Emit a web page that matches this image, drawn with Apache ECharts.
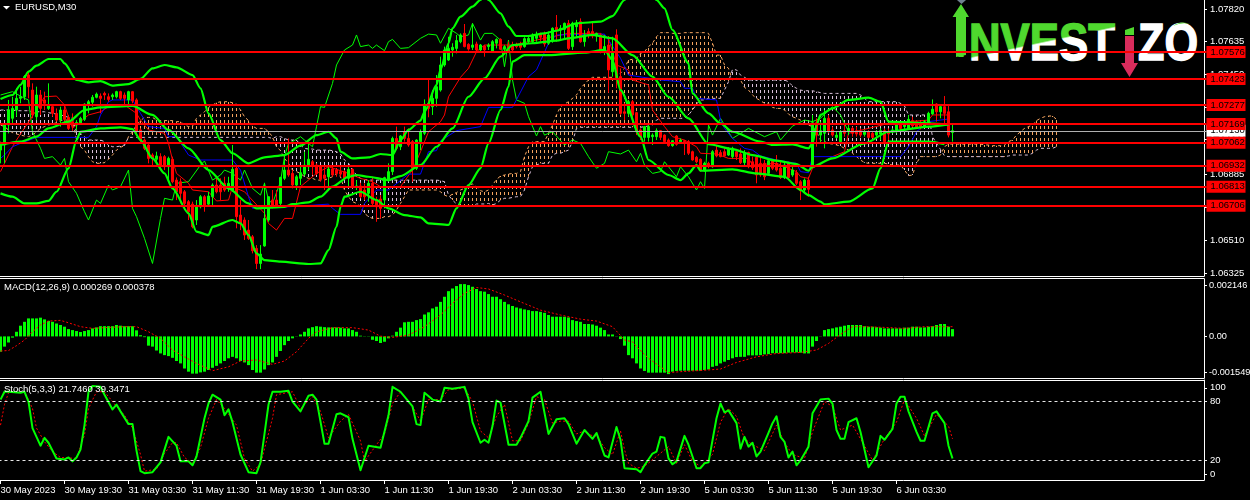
<!DOCTYPE html>
<html><head><meta charset="utf-8">
<style>
html,body{margin:0;padding:0;background:#000;width:1250px;height:500px;overflow:hidden}
#logo{position:absolute;left:0;top:0;z-index:0}
#chart{position:absolute;left:0;top:0;width:1250px;height:500px;z-index:1}
</style>
<script src="https://cdn.jsdelivr.net/npm/echarts@6/dist/echarts.min.js"></script>
</head><body>
<svg id="logo" width="1250" height="500" xmlns="http://www.w3.org/2000/svg">
<defs><linearGradient id="lg" gradientUnits="userSpaceOnUse" x1="970" y1="57" x2="970.34" y2="58.6">
<stop offset="0" stop-color="#4fd82e"/><stop offset="1" stop-color="#ffffff"/></linearGradient></defs>
<text x="956" y="57" font-family="Liberation Sans" font-weight="700" font-size="52" fill="#4fd82e" textLength="10" lengthAdjust="spacingAndGlyphs">I</text>
<text x="969" y="60" font-family="Liberation Sans" font-weight="700" font-size="52" fill="url(#lg)" stroke="url(#lg)" stroke-width="1.4" textLength="146" lengthAdjust="spacingAndGlyphs">NVEST</text>
<text x="1125" y="63" font-family="Liberation Sans" font-weight="700" font-size="36" fill="#d92c5c" textLength="9" lengthAdjust="spacingAndGlyphs">I</text>
<text x="1138" y="60" font-family="Liberation Sans" font-weight="700" font-size="52" fill="#fff" stroke="#fff" stroke-width="1.4" textLength="60" lengthAdjust="spacingAndGlyphs">ZO</text>
<polygon points="957,0 966,0 961.5,4" fill="#708090"/>
<polygon points="961,4 969,17 966,17 966,55 956,57 956,17 952.5,17" fill="#4fd82e"/>
<polygon points="1125,30 1134,27 1134,35 1125,35" fill="#4fd82e"/>
<polygon points="1125,36 1134,36 1134,63 1138,63 1129.5,77 1121,63 1125,63" fill="#d92c5c"/>
<path d="M1173,26 Q1181,20 1190,24 Q1181,22 1173,26Z" fill="#4fd82e"/>
</svg>
<div id="chart"></div>
<script>
// Prices are in points: 7420 means 1.07420. Each candle is [open, close, low, high], one per 30-minute bar.
const candles = [
[7021,7059,6946,7069],[7050,7163,6946,7172],[7163,7248,7116,7305],[7201,7257,7163,7323],[7248,7314,7210,7371],[7314,7323,7286,7380],[7323,7437,7305,7446],[7446,7380,7314,7465],
[7361,7220,7201,7399],[7210,7333,7191,7380],[7333,7257,7220,7361],[7305,7286,7248,7352],[7257,7276,7248,7399],[7267,7229,7210,7276],[7229,7191,7182,7257],[7191,7248,7154,7267],
[7248,7195,7172,7271],[7205,7144,7135,7220],[7182,7168,7130,7229],[7163,7177,7135,7191],[7172,7201,7163,7210],[7195,7281,7186,7286],[7276,7295,7229,7305],[7292,7320,7267,7333],
[7320,7338,7314,7347],[7327,7314,7229,7342],[7342,7333,7305,7352],[7323,7308,7295,7342],[7323,7333,7305,7342],[7323,7352,7314,7357],[7352,7314,7305,7357],[7333,7314,7271,7347],
[7305,7352,7267,7357],[7352,7299,7286,7356],[7305,7125,7106,7314],[7135,7078,7059,7144],[7078,7031,7021,7087],[7050,6974,6946,7059],[6993,6974,6936,7003],[6969,6988,6946,7012],
[6984,6936,6918,7003],[6984,6927,6908,6993],[6927,6974,6851,6984],[6969,6842,6833,6984],[6851,6785,6738,6866],[6842,6776,6719,6861],[6785,6719,6682,6795],[6729,6672,6625,6738],
[6715,6587,6578,6729],[6625,6700,6597,6738],[6700,6757,6691,6766],[6757,6705,6672,6766],[6715,6761,6710,6785],[6757,6823,6700,6833],[6823,6785,6776,6870],[6823,6785,6738,6861],
[6833,6795,6785,6870],[6814,6833,6785,6870],[6795,6912,6785,7050],[6918,6644,6578,6927],[6653,6606,6568,6738],[6625,6540,6512,6640],[6568,6521,6512,6625],[6530,6451,6436,6540],
[6464,6379,6347,6483],[6379,6432,6347,6483],[6478,6634,6474,6836],[6625,6757,6615,6757],[6738,6700,6691,6795],[6738,6710,6700,6795],[6719,6866,6710,6870],[6861,6908,6851,6984],
[6908,6880,6870,7087],[6889,6823,6804,6908],[6823,6870,6795,6880],[6861,6893,6823,6927],[6885,6936,6875,7012],[6927,6969,6908,7059],[6955,6936,6880,6965],[6936,6889,6880,6946],
[6927,6855,6842,6936],[6880,6861,6795,6927],[6870,6914,6795,6931],[6914,6880,6870,6927],[6908,6889,6870,6918],[6899,6885,6870,6931],[6899,6861,6851,6908],[6861,6912,6814,6927],
[6912,6814,6804,6918],[6810,6818,6795,6851],[6818,6757,6748,6836],[6795,6757,6738,6833],[6776,6833,6729,6851],[6833,6719,6710,6870],[6738,6700,6615,6757],[6744,6691,6634,6766],
[6738,6865,6691,6870],[6855,6899,6842,6946],[6899,7087,6880,7097],[7087,7031,7021,7154],[7040,7101,7021,7106],[7125,7087,7069,7154],[7087,7050,7040,7144],[7069,6918,6842,7078],
[6918,7078,6908,7082],[7069,7125,7021,7138],[7116,7281,7106,7308],[7286,7257,7207,7422],[7267,7314,7220,7361],[7314,7380,7267,7446],[7361,7503,7352,7550],[7503,7588,7493,7607],
[7531,7597,7526,7663],[7588,7603,7550,7626],[7597,7641,7569,7673],[7635,7673,7626,7682],[7682,7607,7603,7735],[7620,7593,7584,7626],[7603,7616,7588,7739],[7622,7588,7578,7635],
[7588,7616,7578,7622],[7610,7588,7550,7616],[7607,7616,7588,7626],[7582,7635,7573,7644],[7626,7648,7597,7654],[7648,7592,7588,7654],[7592,7607,7578,7616],[7607,7588,7578,7635],
[7616,7588,7578,7635],[7616,7607,7597,7629],[7616,7603,7588,7635],[7607,7652,7601,7660],[7635,7654,7626,7673],[7635,7673,7629,7682],[7654,7673,7635,7692],[7682,7660,7635,7686],
[7678,7622,7607,7692],[7626,7673,7616,7692],[7641,7711,7629,7716],[7716,7701,7635,7786],[7701,7711,7648,7729],[7705,7739,7654,7743],[7739,7597,7588,7758],[7607,7739,7588,7748],
[7720,7739,7663,7758],[7748,7635,7629,7767],[7635,7673,7607,7701],[7692,7673,7654,7711],[7692,7667,7654,7748],[7667,7682,7635,7686],[7673,7588,7569,7682],[7578,7607,7559,7673],
[7616,7475,7346,7667],[7465,7578,7437,7663],[7673,7427,7371,7705],[7437,7229,7220,7484],[7238,7229,7191,7286],[7229,7295,7210,7305],[7295,7220,7169,7305],[7233,7125,7106,7238],
[7135,7097,7078,7144],[7093,7154,7069,7158],[7093,7154,7069,7163],[7097,7106,7050,7116],[7097,7131,7078,7144],[7131,7093,7078,7135],[7106,7069,7059,7110],[7078,7046,7040,7087],
[7046,7074,7040,7078],[7101,7054,7046,7106],[7069,7078,7059,7087],[7074,7069,6993,7078],[7069,7003,6993,7078],[7012,6965,6961,7018],[6980,6955,6946,6988],[6969,6904,6899,6974],
[6904,6946,6899,6955],[6946,6931,6918,6955],[6927,7012,6921,7021],[7021,6988,6980,7046],[7007,6984,6980,7021],[7012,6988,6984,7031],[6993,7025,6988,7037],[6984,7031,6974,7040],
[7012,6984,6965,7021],[6999,6950,6942,7031],[6950,7003,6936,7021],[7007,6927,6918,7012],[6955,6921,6908,6984],[6980,6880,6833,6988],[6946,6880,6870,6984],[6946,6870,6851,6965],
[6889,6961,6880,6974],[6961,6918,6908,6969],[6946,6908,6899,6993],[6918,6865,6857,6965],[6865,6936,6857,6959],[6946,6865,6857,6955],[6880,6908,6870,6936],[6893,6833,6823,6908],
[6842,6791,6738,6851],[6795,6851,6776,6861],[6851,6799,6757,6870],[6927,7176,6918,7220],[7176,7106,7040,7201],[7106,7131,7059,7182],[7116,7201,7031,7248],[7201,7125,7116,7220],
[7135,7106,7097,7154],[7093,7106,7087,7125],[7069,7125,7065,7135],[7131,7116,7097,7163],[7125,7144,7106,7163],[7144,7116,7097,7154],[7131,7112,7097,7154],[7125,7106,7093,7144],
[7110,7125,7097,7135],[7125,7093,7087,7135],[7116,7093,7087,7125],[7106,7125,7097,7135],[7112,7131,7078,7144],[7131,7069,7059,7144],[7125,7112,7078,7144],[7125,7135,7116,7144],
[7131,7163,7116,7172],[7163,7144,7125,7176],[7154,7163,7135,7176],[7144,7195,7135,7220],[7188,7158,7150,7210],[7182,7150,7144,7191],[7176,7150,7138,7188],[7154,7182,7150,7191],
[7176,7229,7172,7238],[7226,7252,7220,7308],[7282,7238,7182,7286],[7238,7267,7201,7282],[7267,7229,7163,7327],[7238,7106,7093,7276],[7121,7131,7069,7163]
];
// Bollinger bands as [bar, points]; the upper band leaves the top of the window twice.
const bbUpper = [[0,7310],[3,7333],[5,7390],[7,7465],[9,7499],[12,7537],[15,7537],[16,7512],[19,7418],[22,7405],[25,7412],[28,7386],[32,7395],[35,7424],[38,7484],[41,7503],[44,7490],[48,7446],[50,7371],[52,7229],[55,7078],[58,7003],[62,6946],[66,6980],[71,6993],[75,7046],[79,7106],[82,7125],[84,7087],[85,7012],[88,6974],[92,6980],[95,6999],[98,6993],[100,7078],[102,7135],[105,7188],[106,7238],[109,7390],[110,7475],[112,7626],[113,7711],[115,7777],[118,7833],[120,7871],[121,7899],[122,7871],[125,7795],[127,7720],[129,7667],[132,7667],[136,7682],[139,7697],[144,7739],[150,7748],[153,7780],[156,7871],[158,7947],[162,7928],[164,7871],[166,7824],[168,7701],[172,7512],[173,7342],[177,7229],[180,7172],[183,7125],[190,7069],[193,7050],[198,7053],[202,7031],[203,7059],[204,7163],[205,7220],[208,7257],[212,7305],[217,7318],[220,7295],[222,7182],[229,7176],[237,7167]];
const bbMiddle = [[0,7050],[5,7069],[9,7097],[12,7144],[17,7182],[21,7248],[25,7263],[33,7271],[38,7220],[42,7135],[47,7031],[52,6908],[57,6804],[62,6719],[64,6691],[71,6700],[73,6715],[77,6725],[80,6757],[83,6814],[87,6870],[89,6880],[92,6870],[97,6851],[100,6874],[105,6936],[109,7040],[113,7144],[117,7323],[121,7427],[125,7550],[128,7616],[133,7626],[139,7641],[142,7654],[148,7673],[153,7654],[158,7559],[163,7437],[167,7323],[172,7201],[177,7055],[183,7027],[188,6993],[194,6961],[199,6942],[202,6904],[203,6927],[208,6974],[216,7059],[222,7125],[232,7154],[237,7167]];
const bbLower = [[0,6776],[3,6757],[6,6719],[9,6719],[12,6734],[14,6785],[17,6918],[19,7078],[20,7125],[25,7144],[30,7150],[33,7140],[35,7078],[38,6974],[41,6889],[43,6804],[47,6663],[49,6559],[52,6540],[53,6587],[58,6625],[60,6606],[62,6540],[64,6436],[66,6398],[70,6389],[77,6376],[80,6379],[82,6455],[84,6587],[85,6700],[86,6757],[90,6785],[94,6738],[97,6691],[101,6653],[105,6640],[107,6606],[112,6597],[114,6691],[117,6823],[120,6918],[122,7059],[125,7248],[127,7380],[128,7522],[131,7559],[137,7559],[146,7573],[151,7588],[153,7531],[155,7361],[160,7097],[162,6965],[167,6880],[170,6851],[172,6889],[174,6936],[175,6904],[183,6912],[189,6889],[196,6870],[200,6795],[202,6766],[205,6729],[206,6714],[212,6729],[218,6804],[220,6918],[222,7069],[232,7069],[236,7055]];
// Ichimoku lines as [bar, points]
const tenkan = [[0,6899],[1,6946],[3,7040],[4,7078],[9,7248],[11,7323],[14,7327],[16,7276],[17,7210],[18,7144],[20,7182],[22,7220],[25,7238],[27,7267],[31,7276],[34,7229],[35,7191],[37,7135],[41,7116],[42,7059],[43,6965],[44,6889],[47,6833],[48,6795],[52,6785],[54,6733],[57,6738],[58,6814],[61,6785],[66,6663],[67,6606],[69,6568],[71,6634],[73,6634],[75,6814],[79,6889],[82,6927],[87,6889],[90,6861],[93,6842],[95,6814],[100,6814],[103,6908],[105,7012],[107,7125],[110,7182],[111,7220],[112,7323],[115,7433],[117,7484],[119,7578],[121,7616],[128,7616],[142,7682],[150,7682],[152,7654],[154,7503],[157,7475],[158,7418],[162,7390],[163,7248],[166,7154],[168,7097],[171,7078],[174,7040],[175,7003],[179,6999],[182,6974],[187,6974],[188,6936],[194,6946],[199,6899],[200,6870],[202,6861],[203,6918],[208,6984],[211,7012],[212,7116],[222,7172],[232,7191],[233,7220],[237,7220]];
const kijun = [[0,6974],[1,6993],[3,7040],[5,7059],[9,7093],[22,7093],[24,7154],[25,7220],[27,7295],[28,7305],[33,7305],[35,7229],[37,7154],[41,7144],[42,7097],[44,7097],[47,6993],[50,6965],[58,6965],[60,6908],[62,6757],[63,6691],[72,6700],[82,6715],[83,6691],[85,6657],[90,6657],[91,6719],[94,6795],[97,6795],[102,6885],[105,6885],[107,7012],[109,7018],[110,7074],[114,7131],[120,7154],[122,7263],[128,7263],[132,7437],[134,7475],[137,7626],[139,7673],[151,7678],[152,7644],[155,7541],[157,7446],[165,7418],[170,7408],[171,7371],[173,7371],[174,7314],[179,7305],[180,7191],[181,7144],[183,7087],[186,7031],[188,7021],[190,6988],[194,6965],[199,6946],[200,6899],[202,6893],[203,6984],[225,6984],[227,7040],[229,7125],[232,7182],[237,7197]];
const chikou = [[0,7333],[3,7352],[6,7314],[7,7305],[8,7125],[9,7078],[10,7031],[11,6974],[13,6984],[15,6936],[16,6974],[17,6842],[19,6776],[21,6672],[22,6625],[24,6738],[25,6719],[27,6823],[28,6795],[30,6814],[32,6908],[33,6691],[34,6644],[36,6521],[38,6379],[40,6634],[41,6748],[43,6738],[44,6833],[47,6842],[50,6936],[51,6959],[53,6851],[55,6880],[56,6908],[58,6889],[60,6851],[61,6908],[63,6804],[65,6766],[66,6833],[67,6738],[68,6719],[70,6842],[71,6984],[72,7059],[73,7069],[75,7097],[76,7078],[78,7040],[79,7154],[80,7267],[81,7263],[83,7399],[84,7503],[86,7588],[88,7616],[89,7673],[90,7607],[92,7616],[93,7597],[94,7616],[96,7584],[97,7635],[98,7648],[100,7597],[102,7601],[105,7654],[107,7678],[109,7673],[110,7626],[112,7711],[114,7682],[115,7663],[117,7673],[118,7739],[120,7644],[121,7682],[123,7682],[125,7644],[126,7493],[127,7644],[128,7418],[129,7305],[131,7286],[132,7210],[134,7101],[135,7154],[136,7106],[138,7125],[141,7050],[143,7078],[145,7059],[147,6984],[149,6918],[151,6946],[152,7012],[155,6999],[157,7021],[159,6955],[160,7003],[161,6936],[163,6889],[165,6899],[166,6955],[169,6870],[170,6927],[172,6870],[174,6795],[175,6842],[176,6804],[177,7163],[178,7106],[180,7201],[183,7087],[187,7144],[191,7097],[194,7125],[195,7078],[198,7157],[201,7191],[203,7182],[205,7201],[208,7267],[210,7220],[212,7125]];
// Ichimoku cloud edges, bar 0 to bar 264
const spanA = [7163,7154,7135,7120,7112,7106,7101,7097,7106,7125,7144,7154,7163,7169,7176,7188,7191,7191,7195,7078,7040,7021,6984,6955,6946,6946,6950,6969,6993,7021,7037,7046,
7097,7125,7163,7188,7206,7206,7206,7191,7188,7188,7188,7188,7182,7182,7163,7154,7157,7201,7220,7238,7263,7276,7289,7295,7295,7295,7289,7282,7248,7210,7188,7157,7144,7144,7144,7125,7097,
7040,7018,6974,6946,6908,6899,6889,6870,6861,6861,6851,6851,6851,6861,6870,6889,6870,6795,6757,6729,6719,6700,6663,6644,6634,6634,6634,6644,6644,6653,6682,6719,6757,6795,6795,6795,6795,6795,6795,6795,6795,6785,6766,6757,
6772,6780,6795,6804,6823,6829,6814,6791,6785,6795,6823,6855,6874,6880,6885,6889,6889,6899,6984,7040,7069,7069,7069,7069,7116,7163,7220,7267,7282,7295,7314,7333,7371,7395,7418,7433,7433,7433,7433,7433,7433,7433,7456,7484,7531,7535,7541,7569,7578,7607,7626,7663,7686,7686,7686,7682,7682,7682,7686,7686,7686,7686,7686,7686,7682,7626,7559,7559,7503,7484,
7418,7427,7418,7376,7361,7333,7314,7301,7286,7286,7263,7257,7257,7248,7225,7210,7201,7191,7172,7163,7154,7125,7078,7069,7059,7055,7050,7044,7031,7021,7003,6984,6965,6950,6946,6946,6946,6946,6946,6942,6936,6936,6936,6908,6876,6880,6946,6984,6984,6984,6984,6984,6993,
7040,7055,7055,7055,7055,7055,7055,7055,7055,7055,7050,7050,7046,7046,7046,7050,7069,7078,7106,7125,7144,7154,7163,7188,7201,7210,7214,7214,7195];
const spanB = [7248,7248,7248,7248,7244,7244,7244,7244,7238,7238,7238,7238,7233,7229,7225,7220,7214,7206,7201,7125,7116,7097,7078,7078,7078,7078,7069,7050,7040,7040,7044,7050,
7093,7093,7093,7093,7093,7093,7093,7093,7093,7093,7093,7093,7093,7093,7093,7093,7093,7093,7093,7093,7093,7093,7093,7093,7093,7093,7093,7093,7093,7093,7093,7093,7093,7093,7093,7093,7087,
7097,7097,7087,7078,7078,7078,7050,7031,7027,7027,7021,7021,7021,7021,7018,7012,6999,6965,6946,6908,6880,6861,6855,6851,6851,6851,6851,6851,6851,6851,6851,6851,6851,6851,6851,6851,6851,6851,6851,6851,6851,6848,6842,6766,
6738,6716,6710,6704,6700,6704,6716,6716,6716,6719,6710,6719,6738,6748,6748,6753,6757,6757,6795,6870,6927,6936,6946,6946,6946,6993,7003,7003,7012,7021,7069,7144,7150,7150,7150,7150,7150,7150,7150,7150,7150,7150,7150,7150,7150,7150,7150,7150,7154,7157,7163,7191,7201,7201,7201,7201,7201,7201,7201,7220,7248,7282,7305,7305,7314,7314,7314,7314,7361,7408,
7478,7475,7446,7433,7418,7418,7418,7418,7418,7418,7418,7418,7418,7418,7408,7384,7371,7361,7357,7357,7357,7352,7346,7342,7342,7342,7342,7342,7342,7342,7342,7342,7333,7314,7295,7295,7295,7295,7295,7295,7295,7295,7286,7271,7220,7220,7220,7220,7220,7220,7097,7059,7025,
6988,6984,6984,6984,6984,6984,6984,6984,6984,6984,6984,6984,6984,6984,6984,6984,6988,6993,6993,6993,6993,6993,7003,7021,7031,7031,7031,7031,7040];
// Horizontal levels and current price
const levels = [7576,7423,7277,7169,7062,6932,6813,6706];
const currentPrice = 7130;
const priceTicks = [7820,7635,7450,7265,7080,6885,6700,6510,6325];
// MACD in units of 0.00001
const macdHist = [-63,-42,-25,-5,19,44,60,74,74,74,77,70,64,60,53,47,40,30,26,22,18,22,26,33,37,42,42,42,42,47,44,42,42,42,25,5,-3,-38,-42,-58,-70,-77,-81,-88,-101,-111,-132,-145,-153,-153,-148,-145,-138,-129,-121,-111,-101,-90,-84,-90,-101,-107,-118,-138,-149,-149,-136,-118,-107,-84,-60,-36,-19,-8,-1,8,19,33,38,42,40,38,37,37,37,36,33,33,26,19,3,1,-1,-14,-19,-27,-22,-8,3,19,36,58,60,60,67,71,90,99,115,122,142,163,186,197,207,215,215,211,204,195,186,184,174,163,163,153,142,132,125,119,115,111,108,104,104,101,97,88,81,81,81,81,78,67,63,60,51,51,49,44,36,26,8,8,-1,-11,-38,-77,-90,-111,-132,-142,-149,-149,-149,-149,-149,-155,-145,-142,-141,-141,-141,-141,-141,-141,-138,-136,-125,-121,-111,-104,-97,-90,-85,-84,-84,-78,-78,-78,-77,-74,-73,-69,-69,-69,-69,-67,-66,-66,-67,-70,-70,-42,-19,1,26,30,33,37,40,44,47,47,47,47,42,40,40,38,36,33,33,33,33,33,36,36,40,40,37,37,40,42,47,51,51,40,30];
const macdSignal = [[0,-60],[2,-58],[4,-38],[6,-15],[8,19],[10,47],[12,63],[15,66],[17,56],[20,40],[23,33],[27,37],[31,40],[34,40],[37,19],[40,-8],[43,-56],[46,-84],[49,-111],[53,-141],[57,-125],[60,-101],[64,-97],[68,-115],[71,-101],[74,-63],[77,-8],[79,19],[83,36],[88,36],[92,26],[95,1],[98,-4],[102,5],[106,40],[110,88],[113,136],[116,177],[119,201],[122,195],[126,170],[130,142],[135,108],[140,88],[145,71],[149,63],[153,40],[156,-15],[158,-22],[159,-42],[162,-90],[165,-125],[167,-149],[170,-145],[173,-142],[177,-138],[180,-134],[184,-107],[189,-84],[194,-70],[200,-66],[204,-56],[207,-29],[210,8],[213,40],[216,40],[221,37],[226,33],[231,40],[236,40],[238,40]];
const macdTickPos = [209,0,-147];
const macdTickText = ['0.002146','0.00','-0.001549'];
// Stochastic as [bar, value]
const stochMain = [[0,82],[1,90],[2,90],[5,89],[6,90],[7,80],[8,53],[10,35],[11,43],[12,38],[14,22],[16,21],[17,23],[18,19],[19,23],[20,31],[21,56],[22,90],[23,96],[25,95],[26,87],[28,72],[29,77],[30,70],[32,57],[33,57],[34,30],[35,9],[36,7],[38,8],[40,18],[42,44],[44,35],[45,19],[47,19],[48,15],[49,24],[51,63],[52,78],[53,87],[55,82],[56,66],[57,72],[58,59],[60,26],[62,8],[64,7],[65,18],[66,47],[67,77],[68,90],[70,90],[72,91],[73,80],[75,70],[77,86],[78,87],[79,82],[81,37],[82,37],[84,67],[85,68],[87,64],[88,42],[90,10],[92,35],[95,33],[97,66],[98,95],[100,90],[101,85],[103,75],[104,57],[105,56],[106,89],[108,82],[110,80],[111,94],[113,93],[116,95],[117,83],[118,59],[120,38],[121,41],[122,38],[123,55],[124,81],[125,79],[127,36],[129,36],[130,43],[132,60],[133,84],[135,90],[137,47],[139,62],[141,63],[142,57],[144,37],[146,51],[148,42],[149,48],[151,25],[152,23],[154,54],[155,41],[156,12],[159,11],[160,8],[161,15],[163,27],[164,29],[165,44],[166,43],[167,22],[168,16],[169,19],[171,45],[172,36],[174,12],[175,12],[176,17],[177,18],[179,63],[180,78],[181,69],[182,71],[184,58],[185,32],[186,44],[187,34],[188,38],[189,24],[190,29],[192,48],[193,58],[194,65],[195,44],[196,39],[197,23],[198,29],[199,15],[200,20],[202,34],[203,68],[205,82],[207,83],[208,78],[209,51],[210,42],[211,42],[212,59],[214,63],[215,49],[217,13],[219,25],[220,45],[221,41],[223,52],[224,78],[225,85],[226,85],[227,70],[229,49],[230,40],[231,40],[233,68],[234,70],[236,58],[237,35],[238,22]];
const stochSignal = [[0,56],[1,77],[2,89],[6,90],[8,73],[9,53],[11,39],[13,29],[15,23],[19,22],[21,46],[22,73],[24,90],[26,90],[29,75],[31,66],[33,53],[35,26],[36,9],[39,11],[41,27],[43,38],[44,38],[46,23],[48,17],[50,33],[52,63],[54,82],[56,73],[59,56],[61,22],[63,9],[65,16],[68,63],[69,87],[73,90],[75,73],[78,85],[80,70],[82,43],[85,60],[87,67],[90,40],[91,19],[94,36],[96,47],[98,78],[100,90],[103,75],[105,60],[107,82],[110,82],[112,92],[116,94],[118,80],[120,50],[122,43],[124,65],[126,77],[128,40],[130,40],[132,58],[134,85],[136,82],[138,58],[140,60],[142,60],[144,47],[146,50],[148,45],[149,45],[151,33],[153,26],[155,50],[156,31],[157,17],[159,12],[161,14],[164,24],[167,34],[169,17],[171,36],[173,19],[175,14],[178,26],[180,59],[182,73],[184,65],[186,42],[188,36],[191,30],[194,56],[196,38],[198,26],[201,22],[203,49],[206,80],[208,75],[210,51],[213,56],[216,35],[218,20],[221,42],[224,59],[226,82],[229,63],[231,45],[234,67],[237,55],[238,42]];
const stochTickPos = [94,80,20,6];
const stochTickText = ['100','80','20','0'];
const stochLevels = [80,20];
// Time labels, one every 16 bars from bar 0
const timeLabels = ['30 May 2023','30 May 19:30','31 May 03:30','31 May 11:30','31 May 19:30','1 Jun 03:30','1 Jun 11:30','1 Jun 19:30','2 Jun 03:30','2 Jun 11:30','2 Jun 19:30','5 Jun 03:30','5 Jun 11:30','5 Jun 19:30','6 Jun 03:30'];
const title = 'EURUSD,M30';
const macdTitle = 'MACD(12,26,9) 0.000269 0.000378';
const stochTitle = 'Stoch(5,3,3) 21.7460 39.3471';

const FONT = 'Liberation Sans', FS = 9.5, WINDOW_BARS = 302, LIME = '#00ff00', RED = '#ff0000';
const categories = Array.from({length: WINDOW_BARS}, (_, i) => (i % 16 === 0 && timeLabels[i / 16]) || '');
const price = v => (1 + v / 100000).toFixed(5);
const lbl = {color:'#fff', fontFamily:FONT, fontSize:FS, margin:6};
const grids = [
  {left:-1.5, width:1208, top:0, height:276, outerBoundsMode:'none'},
  {left:-1.5, width:1208, top:279, height:99, outerBoundsMode:'none'},
  {left:-1.5, width:1208, top:380, height:100, outerBoundsMode:'none'}
];
const xAxis = grids.map((g, k) => ({
  type:'category', gridIndex:k, data:categories, boundaryGap:true,
  axisLine:{show:false}, splitLine:{show:false},
  axisTick:{show:k===2, alignWithLabel:true, length:4, lineStyle:{color:'#fff'},
    interval:(i)=>i%16===0 && i/16<timeLabels.length},
  axisLabel: k===2 ? {show:true, interval:0, align:'left', color:'#fff', fontFamily:FONT, fontSize:FS, margin:5, hideOverlap:false} : {show:false}
}));
const yBase = {position:'right', offset:-2.5, scale:false, splitLine:{show:false},
  axisLine:{show:true, onZero:false, lineStyle:{color:'#fff', width:1}},
  axisTick:{show:true, length:3, lineStyle:{color:'#fff'}}};
const yAxis = [
  {...yBase, gridIndex:0, type:'value', min:6308, max:7871,
    axisTick:{...yBase.axisTick, customValues:priceTicks},
    axisLabel:{...lbl, customValues:priceTicks, formatter:v=>price(v)}},
  {...yBase, gridIndex:1, type:'value', min:-171, max:236,
    axisTick:{...yBase.axisTick, customValues:macdTickPos},
    axisLabel:{...lbl, fontSize:9.2, margin:5, customValues:macdTickPos, formatter:v=>macdTickText[macdTickPos.indexOf(v)]}},
  {...yBase, gridIndex:2, type:'value', min:0, max:102,
    axisTick:{...yBase.axisTick, customValues:stochTickPos},
    axisLabel:{...lbl, customValues:stochTickPos, formatter:v=>stochTickText[stochTickPos.indexOf(v)]}}
];
const line = (data, color, width, z, type, gi) => ({type:'line', data, xAxisIndex:gi||0, yAxisIndex:gi||0,
  showSymbol:false, symbol:'none', silent:true, z, clip:true,
  lineStyle:{color, width, type:type||'solid', cap:'butt', join:'round'}});
const band = data => ({...line(data,LIME,2.2,4), smooth:0.25, smoothMonotone:'x'});
const levelLabel = (bg, fg) => ({show:true, position:'end', distance:0, backgroundColor:bg, color:fg,
  textBorderWidth:0, textBorderColor:fg, textShadowBlur:0, fontWeight:'normal',
  fontFamily:FONT, fontSize:FS, width:32, height:10, lineHeight:10, padding:[1,3,1,4], align:'left', verticalAlign:'middle'});
const DASH = [3,3];
const series = [
  {type:'custom', z:1, silent:true, xAxisIndex:0, yAxisIndex:0,
    data:spanA.map((a,i)=>[i,a,spanB[i]]), encode:{x:0,y:[1,2]},
    renderItem:(p,api)=>{
      const a=api.value(1), b=api.value(2), s=api.coord([api.value(0),Math.max(a,b)]), e=api.coord([api.value(0),Math.min(a,b)]);
      return {type:'line', shape:{x1:s[0],y1:s[1],x2:e[0],y2:e[1]},
        style:{stroke:a>=b?'#f4a460':'#d8bfd8', lineWidth:1, lineDash:DASH, lineDashOffset:s[1]%6}};
    }},
  line(spanA,'#f4a460',1,1,DASH),
  line(spanB,'#d8bfd8',1,1,DASH),
  line(chikou,LIME,1,2),
  line(tenkan,RED,1,2),
  line(kijun,'#0000ff',1,2),
  {type:'candlestick', data:candles, z:3, silent:true, xAxisIndex:0, yAxisIndex:0, barWidth:2,
    itemStyle:{color:LIME, color0:RED, borderColor:LIME, borderColor0:RED, borderWidth:1}},
  band(bbUpper), band(bbMiddle), band(bbLower),
  {...line([], '#c0c0c0', 1, 5), markLine:{silent:true, symbol:'none', animation:false, z:5,
    lineStyle:{color:'#b0b0b0', width:1, type:'solid'}, label:levelLabel('#fff','#000'),
    data:[{yAxis:currentPrice, label:{formatter:price(currentPrice)}}]}},
  {...line([], RED, 2, 6), markLine:{silent:true, symbol:'none', animation:false, z:6,
    lineStyle:{color:RED, width:2, type:'solid'}, label:levelLabel(RED,'#000000'),
    data:levels.map(v=>({yAxis:v, label:{formatter:price(v)}}))}},
  {type:'bar', data:macdHist, barWidth:3, z:2, silent:true, xAxisIndex:1, yAxisIndex:1, itemStyle:{color:LIME}},
  line(macdSignal,RED,1,3,[2,2],1),
  line(stochSignal,RED,1,2,[2,2],2),
  line(stochMain,LIME,2,3,'solid',2),
  {...line([], '#fff', 1, 1, 'solid', 2), markLine:{silent:true, symbol:'none', animation:false,
    lineStyle:{color:'#e8e8e8', width:1, type:[3,3]}, label:{show:false},
    data:stochLevels.map(v=>({yAxis:v}))}}
];
const hline = y => ({type:'line', silent:true, z:20, shape:{x1:0,y1:y,x2:1204.5,y2:y}, style:{stroke:'#fff', lineWidth:1}});
const txt = (x,y,t) => ({type:'text', silent:true, z:20, x, y, style:{text:t, fill:'#fff', font:FS+'px "'+FONT+'"', textVerticalAlign:'middle'}});
const chart = echarts.init(document.getElementById('chart'), null, {renderer:'canvas', width:1250, height:500});
chart.setOption({
  animation:false, backgroundColor:'transparent', grid:grids, xAxis, yAxis, series,
  graphic:[hline(276.5), hline(278.5), hline(378.5), hline(380.5), hline(480.5),
    {type:'polygon', silent:true, z:20, shape:{points:[[3,6],[10,6],[6.5,9.5]]}, style:{fill:'#fff'}},
    txt(15,7.5,title), txt(4,287,macdTitle), txt(4,389,stochTitle)]
});
</script>
</body></html>
